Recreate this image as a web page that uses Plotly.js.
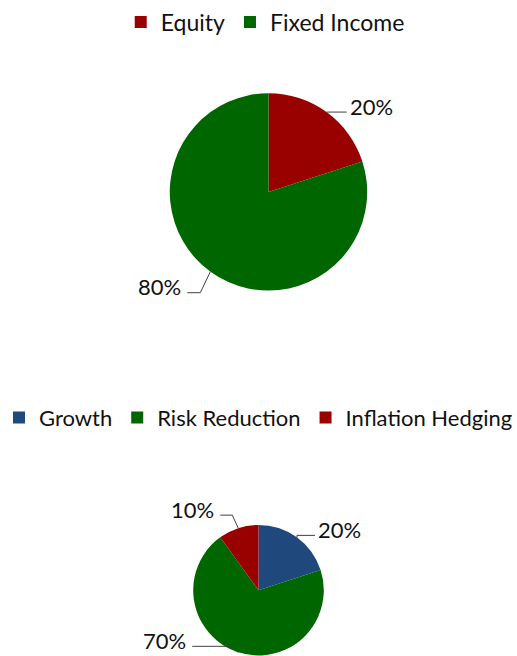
<!DOCTYPE html>
<html>
<head>
<meta charset="utf-8">
<script src="https://cdn.plot.ly/plotly-3.0.1.min.js"></script>
<style>html,body{margin:0;padding:0;background:#fff;}#chart{width:517px;height:656px;}</style>
</head>
<body>
<div id="chart"></div>
<script>
// ---- data ----
const allocLabels = ["Equity", "Fixed Income"];
const allocValues = [20, 80];
const roleLabels = ["Growth", "Risk Reduction", "Inflation Hedging"];
const roleValues = [20, 70, 10];

// ---- styles ----
const allocColors = ["#990000", "#006600"];
const roleColors = ["#1F497D", "#006600", "#990000"];
const FONT = "Lato, 'Liberation Sans', sans-serif";
const W = 517, H = 656;

// pie geometry in pixels (center, radius)
const pies = [
  {cx: 268.5, cy: 190.5, r: 99},
  {cx: 258.5, cy: 590, r: 65.5}
];
// leader-line style per slice: elbow offset and horizontal run (px)
const leaderStyle = [
  [[0, 0, 20], [-10, 21, -13]],
  [[0, -2, 18], [-10, -6, -36], [-6, -13, -12]]
];

const px = x => x / W;
const py = y => 1 - y / H;

function domainOf(p) {
  return {x: [px(p.cx - p.r), px(p.cx + p.r)], y: [py(p.cy + p.r), py(p.cy - p.r)]};
}

const shapes = [], annotations = [];
function addLabels(values, p, styles) {
  const total = values.reduce((a, b) => a + b, 0);
  let cum = 0;
  values.forEach((v, i) => {
    const mid = (cum + v / 2) / total * 2 * Math.PI; // clockwise from 12 o'clock
    cum += v;
    const ex = p.cx + p.r * Math.sin(mid), ey = p.cy - p.r * Math.cos(mid);
    const [dx, dy, run] = styles[i];
    const bx = ex + dx, by = ey + dy, fx = bx + run;
    shapes.push({type: "path", xref: "paper", yref: "paper",
      path: `M${px(ex)},${py(ey)} L${px(bx)},${py(by)} L${px(fx)},${py(by)}`,
      line: {color: "#404040", width: 1}});
    const pct = Math.round(v / total * 100) + "%";
    annotations.push({xref: "paper", yref: "paper", showarrow: false,
      x: px(fx + (run > 0 ? 1 : -4)), y: py(by - 6),
      xanchor: run > 0 ? "left" : "right", yanchor: "middle",
      text: pct, font: {family: FONT, size: 22, color: "#111"}});
  });
}
addLabels(allocValues, pies[0], leaderStyle[0]);
addLabels(roleValues, pies[1], leaderStyle[1]);

const data = [
  {type: "pie", labels: allocLabels, values: allocValues, sort: false, direction: "clockwise",
   rotation: 0, textinfo: "none", hoverinfo: "label+percent",
   marker: {colors: allocColors, line: {width: 0}}, domain: domainOf(pies[0]), legend: "legend"},
  {type: "pie", labels: roleLabels, values: roleValues, sort: false, direction: "clockwise",
   rotation: 0, textinfo: "none", hoverinfo: "label+percent",
   marker: {colors: roleColors, line: {width: 0}}, domain: domainOf(pies[1]), legend: "legend2"}
];

const layout = {
  width: W, height: H,
  margin: {l: 0, r: 0, t: 0, b: 0},
  paper_bgcolor: "#fff",
  font: {family: FONT, size: 22, color: "#111"},
  legend: {orientation: "h", x: 0.513, xanchor: "center", y: py(20), yanchor: "middle",
    font: {family: FONT, size: 23, color: "#111"}, itemwidth: 30},
  legend2: {orientation: "h", x: 0.5, xanchor: "center", y: py(417), yanchor: "middle",
    font: {family: FONT, size: 22, color: "#111"}, itemwidth: 30},
  shapes: shapes,
  annotations: annotations
};

Plotly.newPlot("chart", data, layout, {displayModeBar: false, staticPlot: true});
</script>
</body>
</html>
